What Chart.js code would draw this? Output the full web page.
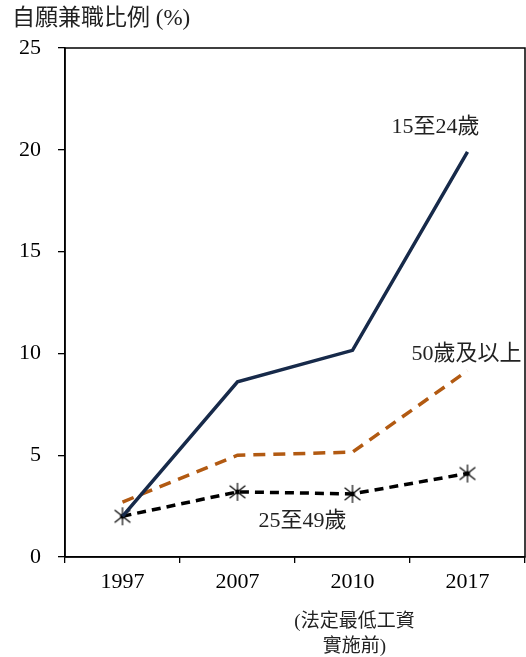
<!DOCTYPE html>
<html>
<head>
<meta charset="utf-8">
<script src="https://cdn.jsdelivr.net/npm/chart.js@4"></script>
<style>
  html, body { margin: 0; padding: 0; background: #fff; overflow: hidden; }
  #wrap { width: 526px; height: 657px; }
  canvas { display: block; }
</style>
</head>
<body>
<div id="wrap"><canvas id="myChart" width="526" height="657"></canvas></div>
<script>
const years = ["1997", "2007", "2010", "2017"];
const age15to24 = [2.0, 8.6, 10.15, 19.9];
const age50plus = [2.7, 5.0, 5.15, 9.15];
const age25to49 = [2.0, 3.2, 3.1, 4.1];
const yTicks = [0, 5, 10, 15, 20, 25];

const serif = "'Liberation Serif', 'Noto Sans CJK TC', serif";

// asterisk marker (x plus vertical bar)
function makeAsterisk(size) {
    const c = document.createElement("canvas");
    c.width = size; c.height = size;
    const g = c.getContext("2d");
    const m = size / 2, r = size / 2 - 1;
    g.strokeStyle = "#000";
    g.lineWidth = 1.2;
    g.beginPath();
    g.moveTo(m, m - r); g.lineTo(m, m + r);
    g.moveTo(m - r * 0.87, m - r * 0.7); g.lineTo(m + r * 0.87, m + r * 0.7);
    g.moveTo(m + r * 0.87, m - r * 0.7); g.lineTo(m - r * 0.87, m + r * 0.7);
    g.stroke();
    g.fillStyle = "#000";
    g.beginPath(); g.arc(m, m, 2.5, 0, Math.PI * 2); g.fill();
    return c;
}

const extras = {
    id: "extras",
    afterDraw(chart) {
        const { ctx, chartArea: a, scales: { x, y } } = chart;
        ctx.save();
        // box round the plot
        ctx.strokeStyle = "#000";
        ctx.lineWidth = 1.5;
        ctx.strokeRect(a.left, a.top, a.right - a.left, a.bottom - a.top);

        ctx.fillStyle = "#222";
        ctx.font = "23px " + serif;
        ctx.textBaseline = "middle";
        ctx.textAlign = "left";
        ctx.fillText("自願兼職比例 (%)", 12, 19);

        ctx.font = "22px " + serif;
        ctx.textAlign = "center";
        ctx.fillText("15至24歲", x.getPixelForValue(3) - 32, y.getPixelForValue(21.1));
        ctx.fillText("50歲及以上", x.getPixelForValue(3) - 1, y.getPixelForValue(9.95));
        ctx.fillText("25至49歲", x.getPixelForValue(2) - 50, y.getPixelForValue(1.75));

        ctx.font = "19px " + serif;
        ctx.fillText("(法定最低工資", x.getPixelForValue(2) + 2, 622);
        ctx.fillText("實施前)", x.getPixelForValue(2) + 2, 647);
        ctx.restore();
    }
};

const ctx = document.getElementById("myChart").getContext("2d");
new Chart(ctx, {
    type: "line",
    data: {
        labels: years,
        datasets: [
            {
                label: "15至24歲",
                data: age15to24,
                borderColor: "#172a4a",
                borderWidth: 3.5,
                pointRadius: 0,
                tension: 0
            },
            {
                label: "50歲及以上",
                data: age50plus,
                borderColor: "#b25a12",
                borderWidth: 3.5,
                borderDash: [12, 8],
                pointRadius: 0,
                tension: 0
            },
            {
                label: "25至49歲",
                data: age25to49,
                borderColor: "#000",
                borderWidth: 3.5,
                borderDash: [9, 6],
                pointStyle: makeAsterisk(20),
                pointRadius: 10,
                tension: 0
            }
        ]
    },
    options: {
        responsive: false,
        animation: false,
        layout: { autoPadding: false, padding: { top: 48, right: 1, left: 0, bottom: 0 } },
        plugins: { legend: { display: false }, tooltip: { enabled: false } },
        scales: {
            x: {
                offset: true,
                grid: { offset: true, drawOnChartArea: false, tickLength: 6, color: "#000", lineWidth: 1.3 },
                border: { color: "#000", width: 1.5 },
                ticks: { color: "#000", font: { family: serif, size: 22 }, padding: 6, maxRotation: 0 },
                afterFit(scale) { scale.height = 100; scale.paddingLeft = 0; scale.paddingRight = 0; }
            },
            y: {
                min: 0,
                max: 25,
                afterBuildTicks(scale) { scale.ticks = yTicks.map(v => ({ value: v })); },
                grid: { drawOnChartArea: false, tickLength: 7, color: "#000", lineWidth: 1.3 },
                border: { color: "#000", width: 1.5 },
                ticks: { color: "#000", font: { family: serif, size: 22 }, padding: 17 },
                afterFit(scale) { scale.width = 65; scale.paddingTop = 0; scale.paddingBottom = 0; }
            }
        }
    },
    plugins: [extras]
});
</script>
</body>
</html>
